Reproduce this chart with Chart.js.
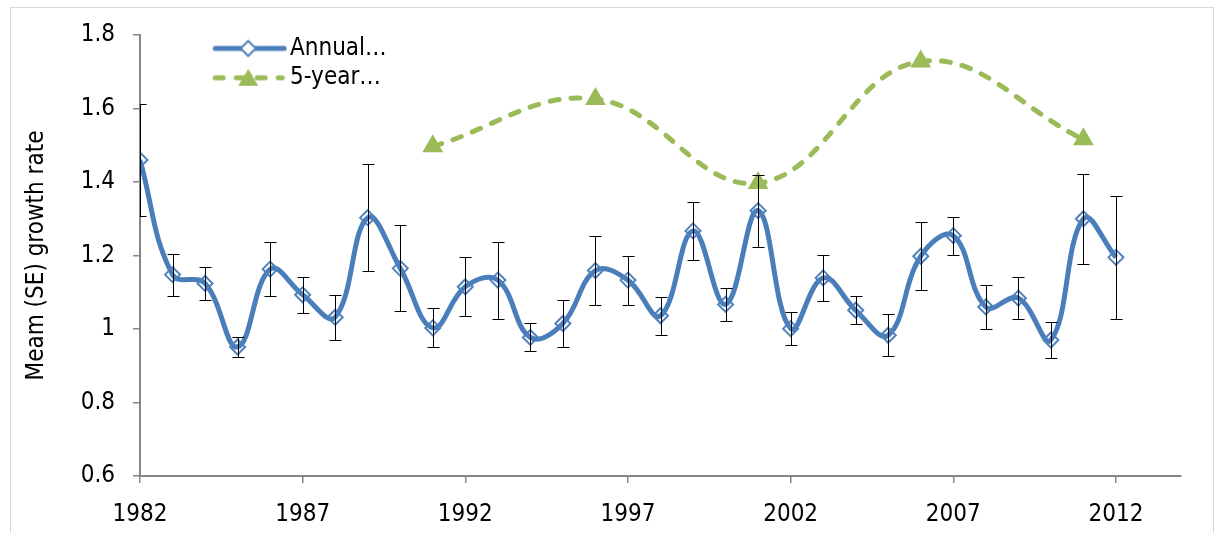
<!DOCTYPE html>
<html>
<head>
<meta charset="utf-8">
<title>Mean growth rate</title>
<script src="https://cdn.jsdelivr.net/npm/chart.js@4.4.1/dist/chart.umd.min.js"></script>
<style>
  html, body { margin: 0; padding: 0; background: #ffffff; }
  #wrap { position: relative; width: 1224px; height: 533px; }
</style>
</head>
<body>
<div id="wrap"><canvas id="chart"></canvas></div>
<script>
// Annual mean growth rate with its standard error
const years = [1982, 1983, 1984, 1985, 1986, 1987, 1988, 1989, 1990, 1991,
               1992, 1993, 1994, 1995, 1996, 1997, 1998, 1999, 2000, 2001,
               2002, 2003, 2004, 2005, 2006, 2007, 2008, 2009, 2010, 2011, 2012];
const annualMean = [1.46, 1.148, 1.124, 0.951, 1.163, 1.093, 1.032, 1.303, 1.165, 1.003,
                    1.115, 1.133, 0.977, 1.015, 1.159, 1.133, 1.036, 1.267, 1.067, 1.322,
                    1.001, 1.139, 1.051, 0.983, 1.198, 1.254, 1.06, 1.084, 0.97, 1.3, 1.195];
const annualSE = [0.153, 0.057, 0.046, 0.028, 0.073, 0.049, 0.061, 0.146, 0.117, 0.053,
                  0.08, 0.105, 0.038, 0.064, 0.094, 0.067, 0.052, 0.078, 0.044, 0.098,
                  0.044, 0.062, 0.038, 0.057, 0.092, 0.052, 0.06, 0.058, 0.05, 0.122, 0.168];

// Five-year means
const fiveYearYears = [1991, 1996, 2001, 2006, 2011];
const fiveYearMean = [1.497, 1.626, 1.397, 1.728, 1.516];

// Axis ticks and text
const xTicks = [1982, 1987, 1992, 1997, 2002, 2007, 2012];
const yTicks = [0.6, 0.8, 1.0, 1.2, 1.4, 1.6, 1.8];
const seriesNames = ['Annual…', '5-year…'];
const yTitle = 'Meam (SE) growth rate';

const FONT = "'DejaVu Sans Condensed', 'DejaVu Sans', sans-serif";
const BLUE_LINE = '#4a7ebb';
const BLUE_MARK = '#4f81bd';
const GREEN = '#9bbb59';
const AXIS = '#868686';

// Legend samples: a short stretch of line with the series marker on it
function legendSample(kind) {
  const c = document.createElement('canvas');
  c.width = 151; c.height = 28;
  const g = c.getContext('2d');
  const cy = 14, mx = 112;
  if (kind === 0) {
    g.strokeStyle = BLUE_LINE; g.lineWidth = 5; g.lineCap = 'round';
    g.beginPath(); g.moveTo(79, cy); g.lineTo(148, cy); g.stroke();
    g.beginPath();
    g.moveTo(mx - 7.5, cy); g.lineTo(mx, cy - 7.5); g.lineTo(mx + 7.5, cy); g.lineTo(mx, cy + 7.5);
    g.closePath();
    g.fillStyle = '#ffffff'; g.fill();
    g.strokeStyle = BLUE_MARK; g.lineWidth = 2; g.stroke();
  } else {
    g.strokeStyle = GREEN; g.lineWidth = 5; g.lineCap = 'round';
    g.setLineDash([8, 13]);
    g.beginPath(); g.moveTo(79, cy); g.lineTo(146, cy); g.stroke();
    g.setLineDash([]);
    g.fillStyle = GREEN;
    g.beginPath();
    g.moveTo(mx, cy - 9); g.lineTo(mx + 10, cy + 8); g.lineTo(mx - 10, cy + 8);
    g.closePath(); g.fill();
  }
  return c;
}
const legendSamples = [legendSample(0), legendSample(1)];

// Standard-error bars for the annual series
const errorBars = {
  id: 'errorBars',
  afterDatasetsDraw(chart) {
    const { ctx, chartArea, scales: { x, y } } = chart;
    ctx.save();
    ctx.beginPath();
    ctx.rect(chartArea.left, chartArea.top, chartArea.right - chartArea.left, chartArea.bottom - chartArea.top);
    ctx.clip();
    ctx.strokeStyle = '#000000';
    ctx.lineWidth = 1;
    years.forEach((yr, i) => {
      const px = Math.round(x.getPixelForValue(yr)) + 0.5;
      const top = Math.round(y.getPixelForValue(annualMean[i] + annualSE[i])) + 0.5;
      const bot = Math.round(y.getPixelForValue(annualMean[i] - annualSE[i])) + 0.5;
      ctx.beginPath();
      ctx.moveTo(px, top); ctx.lineTo(px, bot);
      ctx.moveTo(px - 6, top); ctx.lineTo(px + 6, top);
      ctx.moveTo(px - 6, bot); ctx.lineTo(px + 6, bot);
      ctx.stroke();
    });
    ctx.restore();
  }
};

// Keep the legend inside the plot, just below its top edge
const legendInPlot = {
  id: 'legendInPlot',
  beforeDraw(chart) {
    const lg = chart.legend;
    if (!lg) return;
    lg.top = chart.chartArea.top - 4;
    lg.bottom = chart.chartArea.bottom;
  }
};

// Thin outer frame around the chart
const frame = {
  id: 'frame',
  beforeDraw(chart) {
    const ctx = chart.ctx;
    ctx.save();
    ctx.strokeStyle = '#d9d9d9';
    ctx.lineWidth = 1;
    ctx.strokeRect(10.5, 7.5, 1203, 540);
    ctx.restore();
  }
};

new Chart(document.getElementById('chart'), {
  type: 'line',
  data: {
    datasets: [
      {
        label: seriesNames[0],
        data: years.map((yr, i) => ({ x: yr, y: annualMean[i] })),
        borderColor: BLUE_LINE,
        borderWidth: 5,
        tension: 0.4,
        pointStyle: 'rectRot',
        pointRadius: 7.5,
        pointBorderWidth: 2,
        pointBorderColor: BLUE_MARK,
        pointBackgroundColor: 'rgba(255,255,255,0)'
      },
      {
        label: seriesNames[1],
        data: fiveYearYears.map((yr, i) => ({ x: yr, y: fiveYearMean[i] })),
        borderColor: GREEN,
        borderWidth: 5,
        borderDash: [9, 12],
        borderCapStyle: 'round',
        tension: 0.4,
        pointStyle: 'triangle',
        pointRadius: 12,
        pointBorderWidth: 0,
        pointBorderColor: GREEN,
        pointBackgroundColor: GREEN
      }
    ]
  },
  options: {
    responsive: true,
    maintainAspectRatio: false,
    animation: false,
    layout: { padding: { left: 0, top: 35, right: 43, bottom: 0 } },
    plugins: {
      tooltip: { enabled: false },
      legend: {
        position: 'chartArea',
        align: 'start',
        labels: {
          usePointStyle: true,
          pointStyleWidth: 132.6,
          padding: 5.4,
          color: '#000000',
          font: { family: FONT, size: 24 },
          generateLabels: (chart) => chart.data.datasets.map((ds, i) => ({
            text: ds.label,
            pointStyle: legendSamples[i],
            fillStyle: ds.borderColor,
            strokeStyle: ds.borderColor,
            lineWidth: 0,
            fontColor: '#000000',
            hidden: false,
            datasetIndex: i
          }))
        }
      }
    },
    scales: {
      x: {
        type: 'linear',
        min: 1982,
        max: 2014,
        afterBuildTicks: (s) => { s.ticks = xTicks.map(v => ({ value: v })); },
        afterFit: (s) => { s.height = 57; },
        ticks: {
          callback: (v) => String(v),
          autoSkip: false,
          maxRotation: 0,
          padding: 17,
          color: '#000000',
          font: { family: FONT, size: 24 }
        },
        grid: { drawOnChartArea: false, drawTicks: true, tickLength: 7, color: AXIS, lineWidth: 1.5 },
        border: { color: AXIS, width: 2 }
      },
      y: {
        min: 0.6,
        max: 1.8,
        afterBuildTicks: (s) => { s.ticks = yTicks.map(v => ({ value: v })); },
        afterFit: (s) => { s.width = 140; },
        ticks: {
          callback: (v) => String(Math.round(v * 10) / 10),
          padding: 18,
          color: '#000000',
          font: { family: FONT, size: 24 }
        },
        grid: { drawOnChartArea: false, drawTicks: true, tickLength: 7, color: AXIS, lineWidth: 1.5 },
        border: { color: AXIS, width: 2 },
        title: {
          display: true,
          text: yTitle,
          color: '#000000',
          font: { family: FONT, size: 24 },
          padding: { top: 22.6, bottom: 0 }
        }
      }
    }
  },
  plugins: [frame, legendInPlot, errorBars]
});
</script>
</body>
</html>
